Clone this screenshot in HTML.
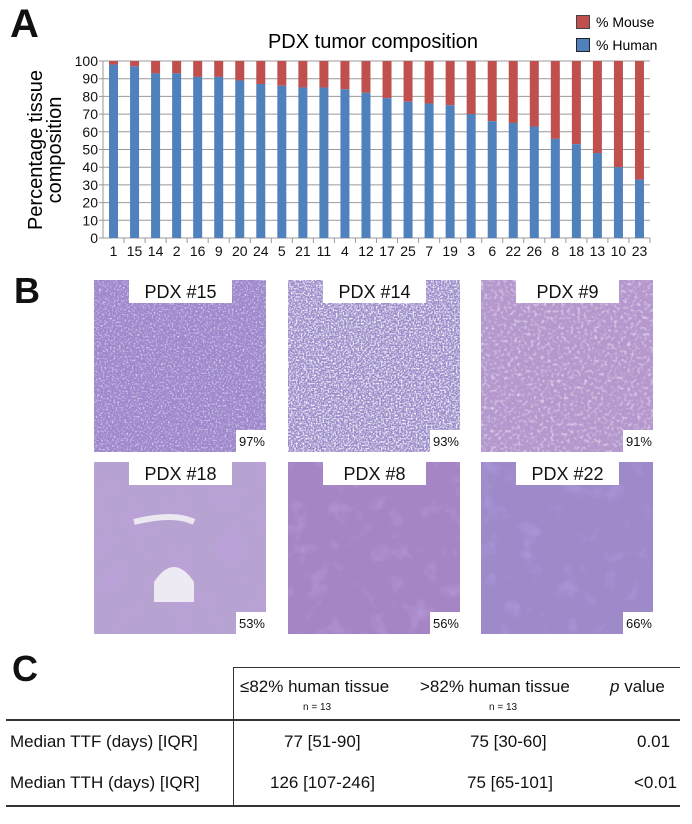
<!DOCTYPE html>
<html><head><meta charset="utf-8"><style>
body{margin:0;background:#fff;width:692px;height:824px;position:relative;overflow:hidden;font-family:"Liberation Sans",Arial,sans-serif;color:#111}
.abs{position:absolute}
.big{font-weight:bold;font-size:36px}
.panel{position:absolute;width:172px;height:172px;overflow:hidden}
.lab{position:absolute;top:0;left:35px;width:103px;height:23px;background:#fff;font-size:18px;text-align:center;line-height:24px}
.pct{position:absolute;right:0;bottom:0;width:29px;height:22px;background:#fff;font-size:13px;text-align:right;line-height:24px;padding-right:1px}
.t{position:absolute;font-size:17px;white-space:nowrap}
</style></head><body>
<div class="abs big" style="left:10px;top:2px;font-size:40px">A</div>
<div class="abs big" style="left:14px;top:270px;font-size:36px">B</div>
<div class="abs big" style="left:12px;top:648px;font-size:36px">C</div>

<svg class="abs" style="left:0;top:0" width="692" height="262">
<text x="373" y="48" font-size="20" text-anchor="middle" font-family="Liberation Sans">PDX tumor composition</text>
<rect x="576.5" y="15.5" width="13" height="13" fill="#c0504d" stroke="#444"/>
<rect x="576.5" y="38.5" width="13" height="13" fill="#4f81bd" stroke="#222"/>
<text x="596" y="27" font-size="14" font-family="Liberation Sans">% Mouse</text>
<text x="596" y="50" font-size="14" font-family="Liberation Sans">% Human</text>
<text transform="translate(42,150) rotate(-90)" font-size="20" text-anchor="middle" font-family="Liberation Sans">Percentage tissue</text>
<text transform="translate(61,150) rotate(-90)" font-size="20" text-anchor="middle" font-family="Liberation Sans">composition</text>
<g id="grid" stroke="#999" stroke-width="1"></g>
<g id="bars"></g>
<g id="labels" font-size="14" font-family="Liberation Sans" fill="#111"></g>
</svg>

<div class="panel" style="left:94px;top:280px;background:#9e88cc"><svg width="172" height="172"><filter id="n1"><feTurbulence type="fractalNoise" baseFrequency="0.55" numOctaves="2" seed="3"/><feColorMatrix values="0 0 0 0 0.93  0 0 0 0 0.9  0 0 0 0 0.96  0 0 0 -2.2 1.1"/></filter><rect width="172" height="172" filter="url(#n1)"/></svg><div class="lab">PDX #15</div><div class="pct">97%</div></div>
<div class="panel" style="left:288px;top:280px;background:#9a8ac8"><svg width="172" height="172"><filter id="n2"><feTurbulence type="fractalNoise" baseFrequency="0.6" numOctaves="2" seed="7"/><feColorMatrix values="0 0 0 0 0.96  0 0 0 0 0.95  0 0 0 0 0.99  0 0 0 -3 1.75"/></filter><rect width="172" height="172" filter="url(#n2)"/></svg><div class="lab">PDX #14</div><div class="pct">93%</div></div>
<div class="panel" style="left:481px;top:280px;background:#b497cc"><svg width="172" height="172"><filter id="n3"><feTurbulence type="fractalNoise" baseFrequency="0.3" numOctaves="3" seed="11"/><feColorMatrix values="0 0 0 0 0.88  0 0 0 0 0.82  0 0 0 0 0.94  0 0 0 -2 1"/></filter><rect width="172" height="172" filter="url(#n3)"/></svg><div class="lab">PDX #9</div><div class="pct">91%</div></div>
<div class="panel" style="left:94px;top:462px;background:#b7a3d2"><svg width="172" height="172"><filter id="n4"><feTurbulence type="fractalNoise" baseFrequency="0.04" numOctaves="3" seed="2"/><feColorMatrix values="0 0 0 0 0.5  0 0 0 0 0.35  0 0 0 0 0.7  0 0 0 -3 1.4"/></filter><rect width="172" height="172" filter="url(#n4)"/><path d="M60 120 q20-30 40 0 v20 h-40z" fill="#eeeaf3"/><path d="M40 60 q40-10 60 0" stroke="#ece8f2" stroke-width="6" fill="none"/></svg><div class="lab">PDX #18</div><div class="pct">53%</div></div>
<div class="panel" style="left:288px;top:462px;background:#a685c4"><svg width="172" height="172"><filter id="n5"><feTurbulence type="fractalNoise" baseFrequency="0.05" numOctaves="3" seed="5"/><feColorMatrix values="0 0 0 0 0.45  0 0 0 0 0.3  0 0 0 0 0.65  0 0 0 -3 1.3"/></filter><rect width="172" height="172" filter="url(#n5)"/></svg><div class="lab">PDX #8</div><div class="pct">56%</div></div>
<div class="panel" style="left:481px;top:462px;background:#9e8ac8"><svg width="172" height="172"><filter id="n6"><feTurbulence type="fractalNoise" baseFrequency="0.05" numOctaves="3" seed="9"/><feColorMatrix values="0 0 0 0 0.4  0 0 0 0 0.3  0 0 0 0 0.7  0 0 0 -3 1.3"/></filter><rect width="172" height="172" filter="url(#n6)"/></svg><div class="lab">PDX #22</div><div class="pct">66%</div></div>

<div class="abs" style="left:233px;top:667px;width:447px;height:1px;background:#333"></div>
<div class="abs" style="left:233px;top:667px;width:1px;height:139px;background:#333"></div>
<div class="abs" style="left:6px;top:719px;width:674px;height:1.5px;background:#333"></div>
<div class="abs" style="left:6px;top:805px;width:674px;height:1.5px;background:#333"></div>
<div class="t" style="left:240px;top:677px">≤82% human tissue</div>
<div class="t" style="left:420px;top:677px">&gt;82% human tissue</div>
<div class="t" style="left:610px;top:677px"><i>p</i> value</div>
<div class="t" style="left:303px;top:702px;font-size:10px">n = 13</div>
<div class="t" style="left:489px;top:702px;font-size:10px">n = 13</div>
<div class="t" style="left:10px;top:732px">Median TTF (days) [IQR]</div>
<div class="t" style="left:284px;top:732px">77 [51-90]</div>
<div class="t" style="left:470px;top:732px">75 [30-60]</div>
<div class="t" style="left:637px;top:732px">0.01</div>
<div class="t" style="left:10px;top:773px">Median TTH (days) [IQR]</div>
<div class="t" style="left:270px;top:773px">126 [107-246]</div>
<div class="t" style="left:467px;top:773px">75 [65-101]</div>
<div class="t" style="left:634px;top:773px">&lt;0.01</div>

<script>
var ns="http://www.w3.org/2000/svg";
function el(p,n,a,t){var e=document.createElementNS(ns,n);for(var k in a)e.setAttribute(k,a[k]);if(t!=null)e.textContent=t;document.getElementById(p).appendChild(e);}
var y0=238,y1=61,x0=103,x1=650;
for(var i=0;i<=10;i++){var y=y0-(y0-y1)*i/10;el("grid","line",{x1:x0-4,x2:x1,y1:y,y2:y});el("labels","text",{x:x0-5,y:y+5,"text-anchor":"end"},i*10);}
el("grid","line",{x1:x0,x2:x0,y1:y1,y2:y0});
var ids=[1,15,14,2,16,9,20,24,5,21,11,4,12,17,25,7,19,3,6,22,26,8,18,13,10,23];
var h=[98,97,93,93,91,91,89,87,86,85,85,84,82,79,77,76,75,70,66,65,63,56,53,48,40,33];
var pitch=(x1-x0)/26;
for(var i=0;i<26;i++){var cx=x0+pitch*(i+0.5),w=9;var yh=y0-(y0-y1)*h[i]/100;
el("bars","rect",{x:cx-w/2,y:y1,width:w,height:yh-y1,fill:"#c0504d"});
el("bars","rect",{x:cx-w/2,y:yh,width:w,height:y0-yh,fill:"#4f81bd"});
el("grid","line",{x1:x0+pitch*(i+1),x2:x0+pitch*(i+1),y1:y0,y2:y0+5});
el("labels","text",{x:cx,y:256,"text-anchor":"middle"},ids[i]);}
</script>
</body></html>
